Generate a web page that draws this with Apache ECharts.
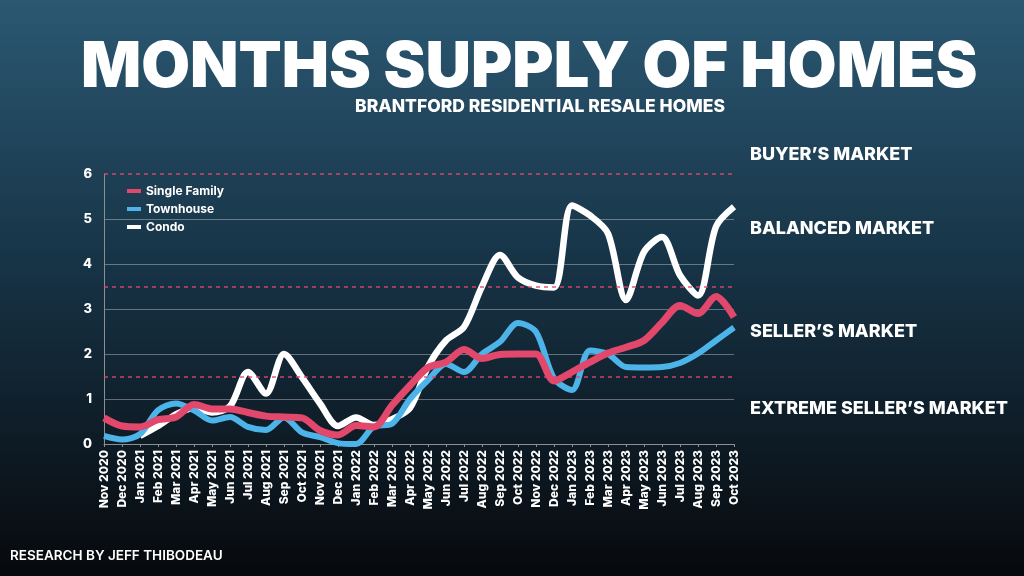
<!DOCTYPE html>
<html>
<head>
<meta charset="utf-8">
<script src="https://cdn.jsdelivr.net/npm/echarts@6/dist/echarts.min.js"></script>
<style>
  html, body { margin: 0; padding: 0; }
  #chart { width: 1024px; height: 576px; }
</style>
</head>
<body>
<div id="chart"></div>
<script>
  var months = ['Nov 2020', 'Dec 2020', 'Jan 2021', 'Feb 2021', 'Mar 2021', 'Apr 2021', 'May 2021', 'Jun 2021',
    'Jul 2021', 'Aug 2021', 'Sep 2021', 'Oct 2021', 'Nov 2021', 'Dec 2021', 'Jan 2022', 'Feb 2022',
    'Mar 2022', 'Apr 2022', 'May 2022', 'Jun 2022', 'Jul 2022', 'Aug 2022', 'Sep 2022', 'Oct 2022',
    'Nov 2022', 'Dec 2022', 'Jan 2023', 'Feb 2023', 'Mar 2023', 'Apr 2023', 'May 2023', 'Jun 2023',
    'Jul 2023', 'Aug 2023', 'Sep 2023', 'Oct 2023'];

  var singleFamily = [0.58, 0.4, 0.38, 0.54, 0.6, 0.88, 0.78, 0.78, 0.7, 0.62, 0.6, 0.58,
    0.3, 0.2, 0.41, 0.38, 0.86, 1.3, 1.7, 1.82, 2.1, 1.9, 1.99, 2.0,
    2.0, 1.4, 1.6, 1.82, 2.02, 2.15, 2.3, 2.7, 3.08, 2.9, 3.28, 2.82];

  var townhouse = [0.18, 0.1, 0.22, 0.75, 0.9, 0.75, 0.52, 0.6, 0.38, 0.31, 0.59, 0.26,
    0.15, 0.02, 0.0, 0.39, 0.45, 1.0, 1.42, 1.78, 1.6, 2.0, 2.27, 2.69,
    2.49, 1.46, 1.2, 2.08, 2.0, 1.71, 1.7, 1.71, 1.8, 2.01, 2.3, 2.59];

  var condo = [null, null, 0.18, 0.4, 0.66, 0.8, 0.7, 0.84, 1.6, 1.12, 2.0, 1.48,
    0.9, 0.4, 0.59, 0.42, 0.55, 0.8, 1.72, 2.3, 2.6, 3.5, 4.2, 3.7,
    3.52, 3.48, 5.3, 5.08, 4.68, 3.2, 4.27, 4.6, 3.75, 3.3, 4.83, 5.27];

  var yTicks = [0, 1, 2, 3, 4, 5, 6];
  var marketLines = [1.5, 3.5, 6];
  var marketLabels = ['BUYER\u2019S MARKET', 'BALANCED MARKET', 'SELLER\u2019S MARKET', 'EXTREME SELLER\u2019S MARKET'];

  var RED = '#e2476c';
  var BLUE = '#4db4e9';
  var font = 'Inter, "Open Sans", sans-serif';

  var myChart = echarts.init(document.getElementById('chart'));

  var labelTops = [146, 220, 323, 400];
  var graphics = marketLabels.map(function (t, i) {
    return {
      type: 'text',
      left: 750,
      top: labelTops[i],
      style: { text: t, fill: '#fff', font: '800 18px ' + font }
    };
  });
  graphics.push({
    type: 'text',
    left: 10,
    top: 549,
    style: { text: 'RESEARCH BY JEFF THIBODEAU', fill: '#fff', font: '600 13.5px ' + font }
  });

  myChart.setOption({
    backgroundColor: new echarts.graphic.LinearGradient(0, 0, 0, 1, [
      { offset: 0, color: '#2b5872' },
      { offset: 0.45, color: '#173447' },
      { offset: 1, color: '#07090c' }
    ]),
    textStyle: { fontFamily: font },
    title: [{
      text: 'MONTHS SUPPLY OF HOMES',
      left: 76,
      top: 32,
      textStyle: { color: '#fff', fontSize: 63, fontWeight: 900, fontFamily: font }
    }, {
      text: 'BRANTFORD RESIDENTIAL RESALE HOMES',
      left: 350,
      top: 93,
      textStyle: { color: '#fff', fontSize: 17.5, fontWeight: 800, fontFamily: font }
    }],
    legend: {
      data: ['Single Family', 'Townhouse', 'Condo'],
      orient: 'vertical',
      left: 122,
      top: 180,
      itemWidth: 14,
      itemHeight: 4,
      itemGap: 6,
      icon: 'rect',
      textStyle: { color: '#fff', fontSize: 12, fontWeight: 700 }
    },
    grid: { left: 104, right: 290, top: 174, bottom: 132 },
    xAxis: {
      type: 'category',
      data: months,
      boundaryGap: false,
      axisLine: { lineStyle: { color: '#8a8f94', width: 1 } },
      axisTick: { show: true, length: 3, lineStyle: { color: '#8a8f94' } },
      axisLabel: { rotate: 90, interval: 0, color: '#fff', fontSize: 12, fontWeight: 800, margin: 6 }
    },
    yAxis: {
      type: 'value',
      min: yTicks[0],
      max: yTicks[yTicks.length - 1],
      interval: 1,
      axisLine: { show: true, lineStyle: { color: '#8a8f94' } },
      axisLabel: { color: '#fff', fontSize: 13, fontWeight: 800, margin: 12 },
      splitLine: {
        lineStyle: {
          color: ['rgba(0,0,0,0)', 'rgba(200,205,210,0.45)', 'rgba(200,205,210,0.45)', 'rgba(200,205,210,0.45)',
            'rgba(200,205,210,0.45)', 'rgba(200,205,210,0.45)', 'rgba(0,0,0,0)'],
          width: 1
        }
      }
    },
    series: [{
      name: 'Condo',
      type: 'line',
      data: condo,
      smooth: 0.3,
      showSymbol: false,
      lineStyle: { color: '#ffffff', width: 6.5 },
      itemStyle: { color: '#ffffff' },
      z: 2,
      markLine: {
        silent: true,
        symbol: 'none',
        label: { show: false },
        lineStyle: { color: RED, type: [4, 4], width: 1.5, opacity: 0.9 },
        data: marketLines.map(function (v) { return { yAxis: v }; })
      }
    }, {
      name: 'Townhouse',
      type: 'line',
      data: townhouse,
      smooth: 0.3,
      showSymbol: false,
      lineStyle: { color: BLUE, width: 6 },
      itemStyle: { color: BLUE },
      z: 3
    }, {
      name: 'Single Family',
      type: 'line',
      data: singleFamily,
      smooth: 0.3,
      showSymbol: false,
      lineStyle: { color: RED, width: 7 },
      itemStyle: { color: RED },
      z: 4
    }],
    graphic: graphics
  });
</script>
</body>
</html>
